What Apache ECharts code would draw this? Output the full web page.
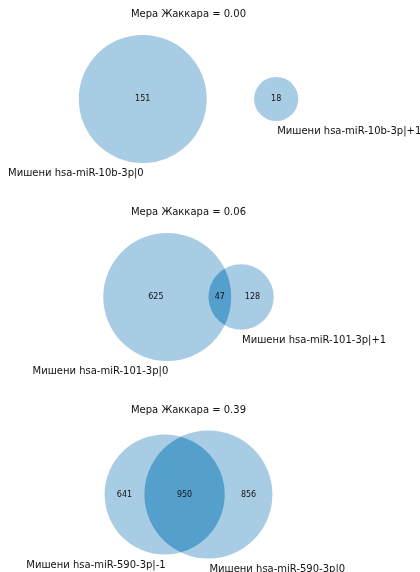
<!DOCTYPE html>
<html>
<head>
<meta charset="utf-8">
<script src="https://cdn.jsdelivr.net/npm/echarts@6/dist/echarts.min.js"></script>
<style>html,body{margin:0;padding:0;background:#fff}#c{width:420px;height:572px}</style>
</head>
<body>
<div id="c"></div>
<script>
// ---- data ----
const titlePrefix = 'Мера Жаккара';
const setLabelsA = ['Мишени hsa-miR-10b-3p|0', 'Мишени hsa-miR-101-3p|0', 'Мишени hsa-miR-590-3p|-1'];
const setLabelsB = ['Мишени hsa-miR-10b-3p|+1', 'Мишени hsa-miR-101-3p|+1', 'Мишени hsa-miR-590-3p|0'];
const onlyA = [151, 625, 641];
const onlyB = [18, 128, 856];
const both = [0, 47, 950];

// ---- layout / style ----
const panelCenterY = [99, 297, 494.5];
const titleCenterY = [15.5, 213.5, 411];
const panelDiameter = 128;
const centerX = 188.5;
const halfW = 180;
const lightColor = '#a8cce4';
const darkColor = '#559fcd';
const font = 'DejaVu Sans';

function lensArea(r1, r2, d) {
  if (d >= r1 + r2) return 0;
  if (d <= Math.abs(r1 - r2)) return Math.PI * Math.min(r1, r2) ** 2;
  const a1 = r1 * r1 * Math.acos((d * d + r1 * r1 - r2 * r2) / (2 * d * r1));
  const a2 = r2 * r2 * Math.acos((d * d + r2 * r2 - r1 * r1) / (2 * d * r2));
  const t = 0.5 * Math.sqrt((-d + r1 + r2) * (d + r1 - r2) * (d - r1 + r2) * (d + r1 + r2));
  return a1 + a2 - t;
}

function layout(i) {
  const sA = onlyA[i] + both[i], sB = onlyB[i] + both[i];
  const rA = Math.sqrt(sA / Math.PI), rB = Math.sqrt(sB / Math.PI);
  let d;
  if (both[i] > 0) {
    let lo = Math.abs(rA - rB), hi = rA + rB;
    for (let k = 0; k < 80; k++) {
      const mid = (lo + hi) / 2;
      if (lensArea(rA, rB, mid) > both[i]) lo = mid; else hi = mid;
    }
    d = (lo + hi) / 2;
  } else {
    d = rA + rB + (rA + rB) / 2 * 1.1;
  }
  const maxR = Math.max(rA, rB);
  const xmin = Math.min(-rA, d - rB), xmax = Math.max(rA, d + rB);
  const xc = (xmin + xmax) / 2;
  const scale = panelDiameter / (2 * maxR);
  return {rA, rB, d, maxR, xc, scale,
    xA: (-rA + Math.min(rA, d - rB)) / 2,
    xAB: (d - rB + rA) / 2,
    xB: (Math.max(d - rB, rA) + d + rB) / 2};
}

const grids = [], xAxes = [], yAxes = [], series = [], titles = [];
for (let i = 0; i < 3; i++) {
  const L = layout(i);
  const cy = panelCenterY[i];
  grids.push({left: centerX - halfW, width: 2 * halfW, top: cy - panelDiameter / 2, height: panelDiameter});
  xAxes.push({type: 'value', gridIndex: i, show: false, min: L.xc - halfW / L.scale, max: L.xc + halfW / L.scale});
  yAxes.push({type: 'value', gridIndex: i, show: false, min: -L.maxR, max: L.maxR});
  const jac = both[i] / (onlyA[i] + onlyB[i] + both[i]);
  titles.push({text: titlePrefix + ' = ' + jac.toFixed(2), left: centerX, top: titleCenterY[i] - 6,
    textAlign: 'center', padding: 0,
    textStyle: {fontSize: 10, fontWeight: 'normal', color: '#111', fontFamily: font}});
  series.push({
    type: 'custom', xAxisIndex: i, yAxisIndex: i, clip: false, silent: true,
    data: [[0, 0]],
    renderItem: function (params, api) {
      const pA = api.coord([0, 0]);
      const pB = api.coord([L.d, 0]);
      const RA = api.size([L.rA, 0])[0];
      const RB = api.size([L.rB, 0])[0];
      const y = pA[1];
      const txt = (x, yy, t, size, align) => ({type: 'text', x: x, y: yy,
        style: {text: t, fill: '#111', fontSize: size, fontFamily: font, align: align, verticalAlign: 'middle'}});
      const ch = [
        {type: 'circle', shape: {cx: pA[0], cy: y, r: RA}, style: {fill: lightColor}},
        {type: 'circle', shape: {cx: pB[0], cy: y, r: RB}, style: {fill: lightColor}}
      ];
      if (both[i] > 0) {
        const D = pB[0] - pA[0];
        const a = (D * D + RA * RA - RB * RB) / (2 * D);
        const h = Math.sqrt(Math.max(RA * RA - a * a, 0));
        const x = pA[0] + a;
        const largeA = a < 0 ? 1 : 0, largeB = (D - a) < 0 ? 1 : 0;
        ch.push({type: 'path', shape: {pathData:
          `M ${x} ${y - h} A ${RA} ${RA} 0 ${largeA} 1 ${x} ${y + h} A ${RB} ${RB} 0 ${largeB} 1 ${x} ${y - h} Z`},
          style: {fill: darkColor}});
        ch.push(txt(api.coord([L.xAB, 0])[0], y, String(both[i]), 8, 'center'));
      }
      if (onlyA[i] > 0) ch.push(txt(api.coord([L.xA, 0])[0], y, String(onlyA[i]), 8, 'center'));
      if (onlyB[i] > 0) ch.push(txt(api.coord([L.xB, 0])[0], y, String(onlyB[i]), 8, 'center'));
      ch.push(txt(pA[0] + 1, y + RA + 10.5, setLabelsA[i], 10, 'right'));
      ch.push(txt(pB[0] + 1, y + RB + 10.5, setLabelsB[i], 10, 'left'));
      return {type: 'group', children: ch};
    }
  });
}

const chart = echarts.init(document.getElementById('c'), null, {renderer: 'canvas'});
chart.setOption({
  animation: false,
  backgroundColor: '#fff',
  title: titles,
  grid: grids,
  xAxis: xAxes,
  yAxis: yAxes,
  series: series
});
</script>
</body>
</html>
